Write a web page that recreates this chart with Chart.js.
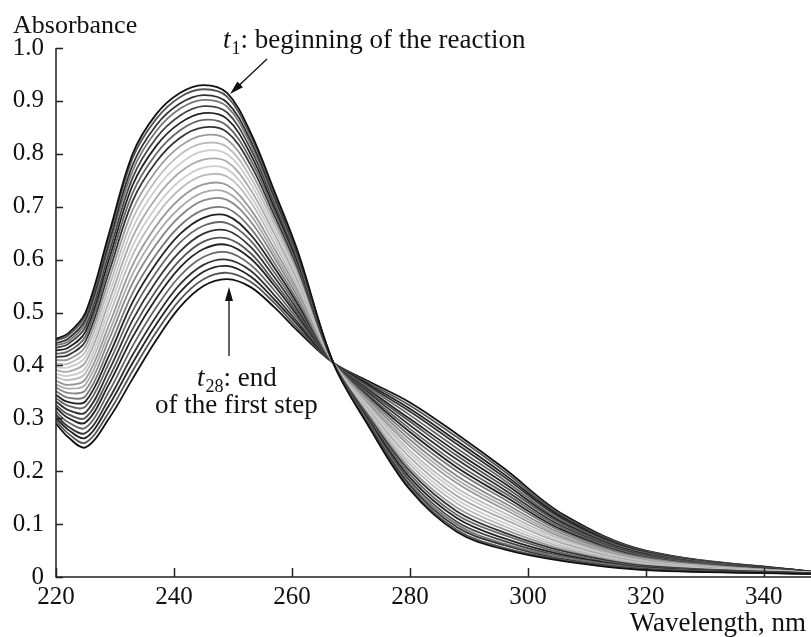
<!DOCTYPE html>
<html>
<head>
<meta charset="utf-8">
<script src="https://cdn.jsdelivr.net/npm/chart.js@4"></script>
<style>
  html, body { margin: 0; padding: 0; background: #fff; }
  #wrap { width: 811px; height: 637px; position: relative; }
</style>
</head>
<body>
<div id="wrap"><canvas id="uv"></canvas></div>
<script>
var wavelengths = [220, 222, 225, 229, 233, 237, 241, 245, 249, 253, 257, 261, 267, 273, 280, 288, 296, 306, 320, 348];

// absorbance, t1 (beginning) ... t28 (end of first step)
var t01 = [0.450, 0.460, 0.500, 0.650, 0.800, 0.875, 0.915, 0.930, 0.915, 0.840, 0.730, 0.615, 0.405, 0.285, 0.165, 0.085, 0.052, 0.030, 0.013, 0.006];
var t02 = [0.447, 0.456, 0.495, 0.643, 0.792, 0.866, 0.907, 0.922, 0.908, 0.834, 0.726, 0.612, 0.405, 0.287, 0.168, 0.089, 0.055, 0.032, 0.014, 0.006];
var t03 = [0.442, 0.450, 0.487, 0.633, 0.779, 0.854, 0.895, 0.911, 0.897, 0.825, 0.719, 0.608, 0.405, 0.289, 0.173, 0.094, 0.060, 0.034, 0.015, 0.006];
var t04 = [0.438, 0.445, 0.481, 0.624, 0.768, 0.843, 0.885, 0.902, 0.889, 0.818, 0.714, 0.604, 0.405, 0.291, 0.177, 0.099, 0.063, 0.037, 0.016, 0.006];
var t05 = [0.433, 0.440, 0.473, 0.613, 0.755, 0.830, 0.872, 0.890, 0.878, 0.809, 0.707, 0.599, 0.405, 0.294, 0.182, 0.104, 0.068, 0.039, 0.017, 0.006];
var t06 = [0.428, 0.433, 0.464, 0.601, 0.741, 0.815, 0.858, 0.877, 0.866, 0.799, 0.699, 0.594, 0.405, 0.297, 0.188, 0.111, 0.073, 0.042, 0.018, 0.007];
var t07 = [0.422, 0.426, 0.455, 0.589, 0.726, 0.800, 0.844, 0.864, 0.853, 0.789, 0.692, 0.589, 0.405, 0.300, 0.194, 0.117, 0.079, 0.045, 0.019, 0.007];
var t08 = [0.416, 0.419, 0.446, 0.577, 0.711, 0.785, 0.830, 0.850, 0.841, 0.779, 0.684, 0.584, 0.405, 0.303, 0.200, 0.124, 0.084, 0.049, 0.021, 0.007];
var t09 = [0.410, 0.411, 0.436, 0.563, 0.694, 0.768, 0.814, 0.835, 0.827, 0.767, 0.675, 0.578, 0.405, 0.306, 0.206, 0.131, 0.090, 0.052, 0.022, 0.007];
var t10 = [0.404, 0.403, 0.426, 0.549, 0.677, 0.751, 0.798, 0.820, 0.813, 0.755, 0.666, 0.572, 0.405, 0.310, 0.213, 0.139, 0.096, 0.056, 0.024, 0.007];
var t11 = [0.397, 0.396, 0.416, 0.535, 0.660, 0.734, 0.781, 0.805, 0.799, 0.744, 0.657, 0.566, 0.405, 0.313, 0.219, 0.146, 0.102, 0.059, 0.025, 0.007];
var t12 = [0.391, 0.388, 0.406, 0.521, 0.643, 0.717, 0.765, 0.789, 0.785, 0.732, 0.649, 0.560, 0.405, 0.316, 0.226, 0.153, 0.109, 0.063, 0.027, 0.007];
var t13 = [0.384, 0.380, 0.395, 0.507, 0.626, 0.700, 0.749, 0.774, 0.771, 0.720, 0.640, 0.554, 0.405, 0.320, 0.233, 0.161, 0.115, 0.066, 0.028, 0.008];
var t14 = [0.378, 0.372, 0.385, 0.493, 0.609, 0.683, 0.733, 0.759, 0.757, 0.709, 0.631, 0.548, 0.405, 0.323, 0.239, 0.168, 0.121, 0.070, 0.030, 0.008];
var t15 = [0.371, 0.363, 0.374, 0.477, 0.590, 0.664, 0.715, 0.742, 0.741, 0.695, 0.621, 0.541, 0.405, 0.327, 0.247, 0.177, 0.128, 0.074, 0.031, 0.008];
var t16 = [0.364, 0.356, 0.364, 0.463, 0.573, 0.647, 0.698, 0.727, 0.727, 0.684, 0.612, 0.535, 0.405, 0.330, 0.253, 0.184, 0.134, 0.077, 0.033, 0.008];
var t17 = [0.358, 0.348, 0.353, 0.449, 0.556, 0.629, 0.682, 0.712, 0.713, 0.672, 0.604, 0.529, 0.405, 0.334, 0.260, 0.191, 0.140, 0.081, 0.034, 0.008];
var t18 = [0.351, 0.339, 0.342, 0.433, 0.537, 0.610, 0.664, 0.694, 0.697, 0.659, 0.594, 0.522, 0.405, 0.338, 0.267, 0.200, 0.147, 0.085, 0.036, 0.008];
var t19 = [0.344, 0.331, 0.332, 0.419, 0.520, 0.593, 0.648, 0.679, 0.683, 0.647, 0.585, 0.516, 0.405, 0.341, 0.274, 0.207, 0.153, 0.088, 0.037, 0.009];
var t20 = [0.338, 0.324, 0.322, 0.405, 0.503, 0.576, 0.632, 0.664, 0.669, 0.636, 0.576, 0.510, 0.405, 0.344, 0.280, 0.214, 0.159, 0.092, 0.039, 0.009];
var t21 = [0.332, 0.316, 0.311, 0.391, 0.486, 0.559, 0.615, 0.649, 0.655, 0.624, 0.567, 0.504, 0.405, 0.348, 0.287, 0.222, 0.165, 0.095, 0.040, 0.009];
var t22 = [0.325, 0.308, 0.301, 0.377, 0.469, 0.542, 0.599, 0.634, 0.640, 0.612, 0.558, 0.498, 0.405, 0.351, 0.294, 0.229, 0.171, 0.099, 0.042, 0.009];
var t23 = [0.320, 0.301, 0.292, 0.365, 0.454, 0.527, 0.585, 0.620, 0.628, 0.602, 0.551, 0.493, 0.405, 0.354, 0.299, 0.236, 0.177, 0.102, 0.043, 0.009];
var t24 = [0.313, 0.293, 0.282, 0.351, 0.437, 0.510, 0.569, 0.605, 0.614, 0.590, 0.542, 0.487, 0.405, 0.358, 0.306, 0.243, 0.183, 0.105, 0.045, 0.009];
var t25 = [0.307, 0.285, 0.272, 0.337, 0.420, 0.493, 0.553, 0.590, 0.600, 0.579, 0.533, 0.481, 0.405, 0.361, 0.313, 0.251, 0.189, 0.109, 0.046, 0.010];
var t26 = [0.301, 0.279, 0.263, 0.325, 0.405, 0.478, 0.538, 0.577, 0.588, 0.568, 0.525, 0.476, 0.405, 0.364, 0.318, 0.257, 0.194, 0.112, 0.047, 0.010];
var t27 = [0.296, 0.272, 0.254, 0.312, 0.390, 0.463, 0.524, 0.563, 0.575, 0.558, 0.518, 0.470, 0.405, 0.367, 0.324, 0.264, 0.200, 0.115, 0.049, 0.010];
var t28 = [0.290, 0.265, 0.245, 0.300, 0.375, 0.448, 0.510, 0.550, 0.563, 0.548, 0.510, 0.465, 0.405, 0.370, 0.330, 0.270, 0.205, 0.118, 0.050, 0.010];

var spectra = [t01, t02, t03, t04, t05, t06, t07, t08, t09, t10, t11, t12, t13, t14,
               t15, t16, t17, t18, t19, t20, t21, t22, t23, t24, t25, t26, t27, t28];

// grey level of each trace in the scan
var curveGrays = ['#111111', '#555555', '#333333', '#777777', '#444444', '#222222', '#666666', '#333333',
                  '#999999', '#bbbbbb', '#cccccc', '#aaaaaa', '#cccccc', '#bbbbbb', '#999999', '#aaaaaa',
                  '#888888', '#777777', '#222222', '#666666', '#333333', '#555555', '#222222', '#666666',
                  '#333333', '#222222', '#555555', '#111111'];

var xTicks = [220, 240, 260, 280, 300, 320, 340];
var yTicks = [0, 0.1, 0.2, 0.3, 0.4, 0.5, 0.6, 0.7, 0.8, 0.9, 1.0];

var FONT = 'Liberation Serif, Times New Roman, serif';

var datasets = spectra.map(function(s, i) {
  return {
    data: s.map(function(v, j) { return { x: wavelengths[j], y: v }; }),
    borderColor: curveGrays[i],
    borderWidth: 1.8,
    pointRadius: 0,
    tension: 0.35,
    fill: false
  };
});

function arrow(ctx, x1, y1, x2, y2) {
  var a = Math.atan2(y2 - y1, x2 - x1);
  var hl = 14, hw = 4;
  ctx.beginPath();
  ctx.moveTo(x1, y1);
  ctx.lineTo(x2 - Math.cos(a) * hl * 0.8, y2 - Math.sin(a) * hl * 0.8);
  ctx.stroke();
  ctx.beginPath();
  ctx.moveTo(x2, y2);
  ctx.lineTo(x2 - Math.cos(a) * hl - Math.sin(a) * hw, y2 - Math.sin(a) * hl + Math.cos(a) * hw);
  ctx.lineTo(x2 - Math.cos(a) * hl + Math.sin(a) * hw, y2 - Math.sin(a) * hl - Math.cos(a) * hw);
  ctx.closePath();
  ctx.fill();
}

// italic t with subscript, then the rest
function tLabel(ctx, x, y, sub, rest) {
  ctx.textAlign = 'left';
  ctx.textBaseline = 'alphabetic';
  ctx.font = 'italic 27px ' + FONT;
  ctx.fillText('t', x, y);
  x += ctx.measureText('t').width + 1;
  ctx.font = '18px ' + FONT;
  ctx.fillText(sub, x, y + 6);
  x += ctx.measureText(sub).width;
  ctx.font = '27px ' + FONT;
  ctx.fillText(rest, x, y);
}

var decor = {
  id: 'decor',
  afterDraw: function(chart) {
    var ctx = chart.ctx, xs = chart.scales.x, ys = chart.scales.y;
    var ca = chart.chartArea;
    ctx.save();
    ctx.strokeStyle = '#222';
    ctx.fillStyle = '#111';
    ctx.lineWidth = 1.5;
    // axis lines
    ctx.beginPath();
    ctx.moveTo(ca.left, ys.getPixelForValue(1.0));
    ctx.lineTo(ca.left, ca.bottom);
    ctx.lineTo(ca.right, ca.bottom);
    ctx.stroke();
    // inward tick marks
    ctx.beginPath();
    yTicks.forEach(function(v) {
      var y = Math.round(ys.getPixelForValue(v)) + 0.5;
      ctx.moveTo(ca.left, y);
      ctx.lineTo(ca.left + 7, y);
    });
    xTicks.forEach(function(v) {
      var x = Math.round(xs.getPixelForValue(v)) + 0.5;
      ctx.moveTo(x, ca.bottom);
      ctx.lineTo(x, ca.bottom - 9);
    });
    ctx.stroke();

    // axis titles
    ctx.fillStyle = '#111';
    ctx.font = '26px ' + FONT;
    ctx.textBaseline = 'alphabetic';
    ctx.textAlign = 'left';
    ctx.fillText('Absorbance', 13, 33);
    ctx.font = '27px ' + FONT;
    ctx.textAlign = 'right';
    ctx.fillText('Wavelength, nm', 806, 631);

    // annotations
    tLabel(ctx, 223, 48, '1', ': beginning of the reaction');
    tLabel(ctx, 197, 386, '28', ': end');
    ctx.font = '27px ' + FONT;
    ctx.textAlign = 'left';
    ctx.fillText('of the first step', 155, 413);

    ctx.lineWidth = 1.3;
    ctx.strokeStyle = '#111';
    arrow(ctx, 267, 59, 230, 94);
    arrow(ctx, 229, 356, 229, 287);
    ctx.restore();
  }
};

new Chart(document.getElementById('uv'), {
  type: 'line',
  data: { datasets: datasets },
  options: {
    responsive: true,
    maintainAspectRatio: false,
    animation: false,
    events: [],
    layout: { padding: { top: 48, right: 0, left: 0, bottom: 0 } },
    plugins: { legend: { display: false }, tooltip: { enabled: false } },
    scales: {
      x: {
        type: 'linear',
        min: 220,
        max: 348,
        grid: { display: false, drawTicks: false },
        border: { display: false },
        afterBuildTicks: function(s) { s.ticks = xTicks.map(function(v) { return { value: v }; }); },
        afterFit: function(s) { s.height = 60; s.paddingLeft = 0; s.paddingRight = 0; },
        ticks: {
          padding: 5,
          maxRotation: 0,
          color: '#111',
          font: { family: FONT, size: 25 }
        }
      },
      y: {
        min: 0,
        max: 1.0,
        grid: { display: false, drawTicks: false },
        border: { display: false },
        afterBuildTicks: function(s) { s.ticks = yTicks.map(function(v) { return { value: v }; }); },
        afterFit: function(s) { s.width = 56; s.paddingTop = 0; s.paddingBottom = 0; },
        ticks: {
          padding: 12,
          color: '#111',
          font: { family: FONT, size: 25 },
          callback: function(v) { return v === 0 ? '0' : v.toFixed(1); }
        }
      }
    }
  },
  plugins: [decor]
});
</script>
</body>
</html>
